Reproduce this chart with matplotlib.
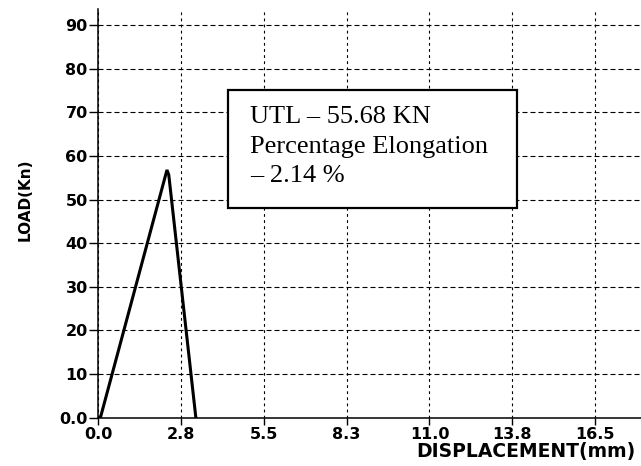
import matplotlib.pyplot as plt
from matplotlib.patches import Rectangle

# ---------------------------------------------------------
# Data
# ---------------------------------------------------------
displacement = [0.0, 0.08, 2.28, 2.34, 3.24]   # mm
load = [0.0, 0.3, 56.8, 55.7, 0.0]             # kN

x_ticks = [0.0, 2.75, 5.5, 8.25, 11.0, 13.75, 16.5]
x_tick_labels = ["0.0", "2.8", "5.5", "8.3", "11.0", "13.8", "16.5"]
y_ticks = [0, 10, 20, 30, 40, 50, 60, 70, 80, 90]
y_tick_labels = ["0.0", "10", "20", "30", "40", "50", "60", "70", "80", "90"]

box_lines = ["UTL \u2013 55.68 KN", "Percentage Elongation", "\u2013 2.14 %"]

# ---------------------------------------------------------
# Plotting
# ---------------------------------------------------------
fig = plt.figure(figsize=(6.41, 4.66), dpi=100)
ax = fig.add_axes([0.1534, 0.1036, 0.8467, 0.877])

ax.plot(displacement, load, color="black", linewidth=2.2, solid_joinstyle="miter")

ax.set_xlim(0, 18.03)
ax.set_ylim(0, 93.7)

ax.set_xticks(x_ticks)
ax.set_xticklabels(x_tick_labels)
ax.set_yticks(y_ticks)
ax.set_yticklabels(y_tick_labels)

for lab in ax.get_xticklabels() + ax.get_yticklabels():
    lab.set_fontfamily("DejaVu Sans")
    lab.set_fontweight("bold")
    lab.set_fontsize(11.5)

ax.tick_params(axis="y", direction="out", length=6.2, width=1.0, pad=1.5)
ax.tick_params(axis="x", direction="out", length=5, width=1.0, pad=1.5)

# dashed grid, horizontal longer dashes than vertical
ax.yaxis.grid(True, color="black", linewidth=0.8, linestyle=(0, (4.5, 2.7)))
ax.xaxis.grid(True, color="black", linewidth=0.8, linestyle=(0, (2.5, 3.0)))
ax.set_axisbelow(True)

for side in ["top", "right"]:
    ax.spines[side].set_visible(False)
for side in ["left", "bottom"]:
    ax.spines[side].set_linewidth(1.1)

# Result box
ax.add_patch(Rectangle((0.2395, 0.512), 0.5315, 0.29, transform=ax.transAxes,
                       facecolor="white", edgecolor="black", linewidth=1.6,
                       zorder=5))
ax.text(0.2795, 0.763, "\n".join(box_lines), transform=ax.transAxes,
        family=["Liberation Serif", "DejaVu Serif"], fontsize=19,
        ha="left", va="top", linespacing=1.45, zorder=6)

# Axis labels
fig.text(636 / 641, 0.020, "DISPLACEMENT(mm)", ha="right", va="baseline",
         family="DejaVu Sans", fontweight="bold", fontsize=13.5)
fig.text(25 / 641, (466 - 200) / 466, "LOAD(Kn)", rotation=90, ha="center",
         va="center", family="DejaVu Sans", fontweight="bold", fontsize=11)

plt.savefig("out.png", dpi=100)
plt.close()
